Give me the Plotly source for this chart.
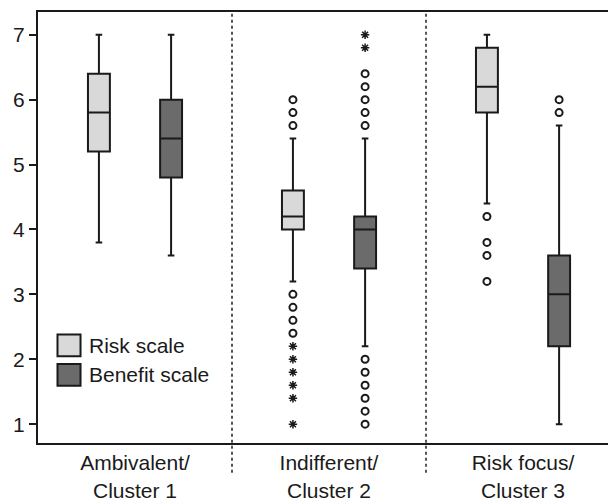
import plotly.graph_objects as go

clusters = ["Ambivalent/<br>Cluster 1", "Indifferent/<br>Cluster 2", "Risk focus/<br>Cluster 3"]

# Box statistics per cluster: [C1, C2, C3]
risk_low = [3.8, 3.2, 4.4]
risk_q1 = [5.2, 4.0, 5.8]
risk_med = [5.8, 4.2, 6.2]
risk_q3 = [6.4, 4.6, 6.8]
risk_high = [7.0, 5.4, 7.0]

ben_low = [3.6, 2.2, 1.0]
ben_q1 = [4.8, 3.4, 2.2]
ben_med = [5.4, 4.0, 3.0]
ben_q3 = [6.0, 4.2, 3.6]
ben_high = [7.0, 5.4, 5.6]

# Outliers (circles) and extremes (asterisks), per cluster index
risk_out = {1: [6.0, 5.8, 5.6, 3.0, 2.8, 2.6, 2.4], 2: [4.2, 3.8, 3.6, 3.2]}
risk_ext = {1: [2.2, 2.0, 1.8, 1.6, 1.4, 1.0]}
ben_out = {1: [6.4, 6.2, 6.0, 5.8, 5.6, 2.0, 1.8, 1.6, 1.4, 1.2, 1.0], 2: [6.0, 5.8]}
ben_ext = {1: [7.0, 6.8]}

series_names = ["Risk scale", "Benefit scale"]
fills = ["#d9d9d9", "#6b6b6b"]
offset = 0.186
boxw = 0.113
ink = "#1a1a1a"

fig = go.Figure()

stats = [
    (risk_low, risk_q1, risk_med, risk_q3, risk_high, risk_out, risk_ext),
    (ben_low, ben_q1, ben_med, ben_q3, ben_high, ben_out, ben_ext),
]
for s, (lo, q1, med, q3, hi, outs, exts) in enumerate(stats):
    off = -offset if s == 0 else offset
    xs = [i + off for i in range(len(clusters))]
    fig.add_trace(go.Box(
        x=xs, q1=q1, median=med, q3=q3, lowerfence=lo, upperfence=hi,
        width=boxw, fillcolor=fills[s], line=dict(color=ink, width=2),
        whiskerwidth=0.3, boxpoints=False, name=series_names[s],
        showlegend=False, hoverinfo="skip",
    ))
    ox, oy = [], []
    for i, vals in outs.items():
        ox += [i + off] * len(vals)
        oy += vals
    fig.add_trace(go.Scatter(
        x=ox, y=oy, mode="markers", showlegend=False, hoverinfo="skip",
        marker=dict(symbol="circle-open", size=7, color=ink, line=dict(width=2, color=ink)),
    ))
    ex, ey = [], []
    for i, vals in exts.items():
        ex += [i + off] * len(vals)
        ey += vals
    fig.add_trace(go.Scatter(
        x=ex, y=ey, mode="markers", showlegend=False, hoverinfo="skip",
        marker=dict(symbol="asterisk-open", size=7, color=ink, line=dict(width=1.5, color=ink)),
    ))

shapes = []
for d in [0.5, 1.5]:
    shapes.append(dict(type="line", xref="x", yref="paper", x0=d, x1=d, y0=-0.069, y1=1,
                       line=dict(color="#555555", width=2, dash="dot"), layer="below"))

# Legend drawn manually
leg_y = [(0.2517, 0.2014), (0.1831, 0.1327)]
for s in range(2):
    shapes.append(dict(type="rect", xref="paper", yref="paper", x0=0.0342, x1=0.0746,
                       y0=leg_y[s][1], y1=leg_y[s][0], fillcolor=fills[s],
                       line=dict(color=ink, width=2)))

annotations = []
for s in range(2):
    annotations.append(dict(xref="paper", yref="paper", x=0.086, y=(leg_y[s][0] + leg_y[s][1]) / 2,
                            text=series_names[s], showarrow=False, xanchor="left", yanchor="middle",
                            font=dict(size=21, color=ink)))

fig.update_layout(
    width=608, height=502,
    margin=dict(l=38, r=0, t=12, b=53),
    paper_bgcolor="white", plot_bgcolor="white",
    font=dict(family="Liberation Sans, Arial, sans-serif", size=21, color=ink),
    boxmode="overlay",
    shapes=shapes, annotations=annotations,
    xaxis=dict(range=[-0.5, 2.438], tickvals=list(range(len(clusters))), ticktext=clusters,
               showgrid=False, zeroline=False, showline=True, linecolor=ink, linewidth=2,
               mirror=True, ticks="", fixedrange=True),
    yaxis=dict(range=[0.71, 7.35], tickvals=[1, 2, 3, 4, 5, 6, 7], showgrid=False, zeroline=False,
               showline=True, linecolor=ink, linewidth=2, ticks="outside", ticklen=7,
               tickwidth=2, tickcolor=ink, fixedrange=True),
)

fig.write_html("out.html", config={"displayModeBar": False},
               post_script="document.body.style.margin='0';document.body.style.overflow='hidden';")
